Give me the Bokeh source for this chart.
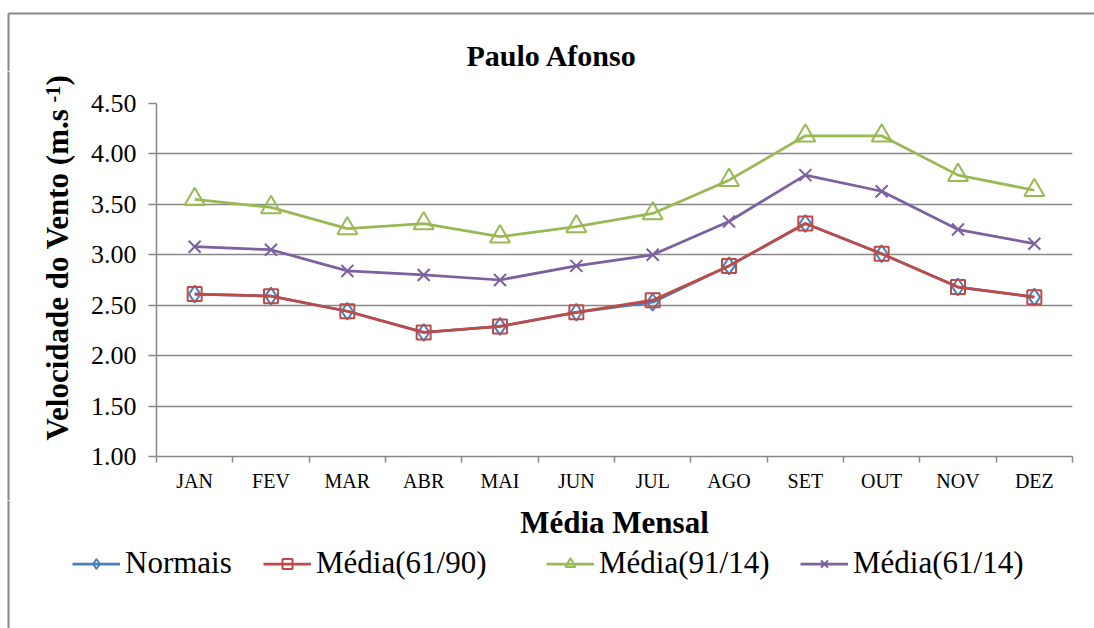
from math import pi

from bokeh.embed import file_html
from bokeh.layouts import column, row
from bokeh.models import (FixedTicker, Label, Legend, LegendItem,
                          PrintfTickFormatter, Range1d)
from bokeh.plotting import figure
from bokeh.resources import INLINE

# Monthly mean wind speed, Paulo Afonso (m/s)
meses = ["JAN", "FEV", "MAR", "ABR", "MAI", "JUN",
         "JUL", "AGO", "SET", "OUT", "NOV", "DEZ"]
normais = [2.61, 2.59, 2.44, 2.23, 2.29, 2.43, 2.53, 2.89, 3.31, 3.01, 2.68, 2.58]
media_61_90 = [2.61, 2.59, 2.44, 2.23, 2.29, 2.43, 2.55, 2.89, 3.31, 3.01, 2.68, 2.58]
media_91_14 = [3.55, 3.47, 3.26, 3.31, 3.18, 3.28, 3.41, 3.74, 4.18, 4.18, 3.79, 3.64]
media_61_14 = [3.08, 3.05, 2.84, 2.80, 2.75, 2.89, 3.00, 3.33, 3.79, 3.63, 3.25, 3.11]
y_ticks = [1.0, 1.5, 2.0, 2.5, 3.0, 3.5, 4.0, 4.5]

SERIF = "Liberation Serif"
GRAY = "#878787"

series = [
    ("Normais", normais, "#4A7EBB", "diamond", 17),
    ("Média(61/90)", media_61_90, "#BE4B48", "square", 14),
    ("Média(91/14)", media_91_14, "#98B954", "triangle", 20),
    ("Média(61/14)", media_61_14, "#7D60A0", "x", 17),
]

# page layout (pixels)
W, H = 1094, 628
TOP_H = 71          # title strip
MID_H = 429         # chart row
BOT_H = H - TOP_H - MID_H   # x title + legend strip
LEFT_W = 84         # y title strip


def strip(w, h):
    """Blank panel whose frame is the whole canvas, 1 unit = 1 px."""
    s = figure(width=w, height=h, output_backend="svg", toolbar_location=None,
               x_range=Range1d(0, w), y_range=Range1d(0, h),
               x_axis_type=None, y_axis_type=None, min_border=0)
    s.outline_line_color = None
    s.grid.visible = False
    s.background_fill_color = "white"
    s.border_fill_color = "white"
    return s


# ---- title strip, with the top/left rules of the chart area
top = strip(W, TOP_H)
top.segment(x0=[8], y0=[TOP_H - 13], x1=[W], y1=[TOP_H - 13],
            line_color=GRAY, line_width=2)
top.segment(x0=[8], y0=[0], x1=[8], y1=[TOP_H - 13],
            line_color=GRAY, line_width=2)
top.add_layout(Label(x=466, y=16, text="Paulo Afonso",
                     text_font=SERIF, text_font_size="30px",
                     text_font_style="bold", text_align="left",
                     text_baseline="alphabetic", text_color="black"))

# ---- y title strip
left = strip(LEFT_W, MID_H)
left.segment(x0=[8], y0=[0], x1=[8], y1=[MID_H], line_color=GRAY, line_width=2)
y_title = [
    ("Velocidade do Vento (m.s", 57, 60, "31px"),
    ("-1", 52, 398, "20px"),
    (")", 57, 415, "31px"),
]
for txt, lx, ly, fs in y_title:
    left.add_layout(Label(x=lx, y=ly, text=txt, angle=pi / 2,
                          text_font=SERIF, text_font_size=fs,
                          text_font_style="bold", text_align="left",
                          text_baseline="alphabetic", text_color="black"))

# ---- chart
xs = [i + 0.5 for i in range(len(meses))]   # category centres

p = figure(width=W - LEFT_W, height=MID_H, output_backend="svg",
           toolbar_location=None,
           x_range=Range1d(0, len(meses)), y_range=Range1d(1.0, 4.5),
           min_border_left=72, min_border_right=22,
           min_border_top=32, min_border_bottom=44)
p.outline_line_color = None
p.background_fill_color = "white"
p.border_fill_color = "white"

p.yaxis.ticker = FixedTicker(ticks=y_ticks)
p.yaxis.formatter = PrintfTickFormatter(format="%.2f")
p.yaxis.major_label_text_font = SERIF
p.yaxis.major_label_text_font_size = "26px"
p.yaxis.major_label_text_color = "black"
p.yaxis.major_label_standoff = 12
p.yaxis.major_tick_out = 8
p.yaxis.major_tick_in = 0
p.yaxis.minor_tick_line_color = None
p.yaxis.axis_line_color = GRAY
p.yaxis.axis_line_width = 1.5
p.yaxis.major_tick_line_color = GRAY
p.yaxis.major_tick_line_width = 1.5

# labels at category centres, short ticks on the category boundaries
p.xaxis.ticker = FixedTicker(ticks=xs, minor_ticks=list(range(len(meses) + 1)))
p.xaxis.major_label_overrides = {x: m for x, m in zip(xs, meses)}
p.xaxis.major_label_text_font = SERIF
p.xaxis.major_label_text_font_size = "20px"
p.xaxis.major_label_text_color = "black"
p.xaxis.major_label_standoff = 7
p.xaxis.major_tick_out = 0
p.xaxis.major_tick_in = 0
p.xaxis.minor_tick_out = 6
p.xaxis.minor_tick_in = 0
p.xaxis.minor_tick_line_color = GRAY
p.xaxis.minor_tick_line_width = 1.5
p.xaxis.axis_line_color = GRAY
p.xaxis.axis_line_width = 1.5

p.xgrid.visible = False
p.ygrid.grid_line_color = GRAY
p.ygrid.grid_line_width = 1.5

for name, vals, color, marker, size in series:
    p.line(xs, vals, line_color=color, line_width=2.75)
    p.scatter(xs, vals, marker=marker, size=size, line_color=color,
              line_width=2, fill_color=None)

# ---- x title and legend strip
bot = strip(W, BOT_H)
bot.segment(x0=[8], y0=[0], x1=[8], y1=[BOT_H], line_color=GRAY, line_width=2)
bot.add_layout(Label(x=614, y=BOT_H - 22, text="Média Mensal",
                     text_font=SERIF, text_font_size="31px",
                     text_font_style="bold", text_align="center",
                     text_baseline="alphabetic", text_color="black"))

# legend swatches: one undrawn (NaN) point per series gives the legend its style
nan = float("nan")
legend_x = [72, 263, 546, 800]
for (name, vals, color, marker, size), lx in zip(series, legend_x):
    ln = bot.line(x=[nan, nan], y=[nan, nan], line_color=color, line_width=2.75)
    sc = bot.scatter(x=[nan], y=[nan], marker=marker, size=size, line_color=color,
                     line_width=2, fill_color=None)
    bot.add_layout(Legend(items=[LegendItem(label=name, renderers=[ln, sc])],
                          location=(lx, 47), orientation="horizontal",
                          border_line_color=None, background_fill_alpha=0,
                          padding=0, margin=0, spacing=0,
                          glyph_width=48, glyph_height=25, label_standoff=5,
                          label_text_font=SERIF, label_text_font_size="31px",
                          label_text_color="black"))

# the chart sits in its own column so the y-title strip keeps a full-height frame
layout = column(top, row(left, column(p)), bot)
open("out.html", "w").write(file_html(layout, INLINE))
